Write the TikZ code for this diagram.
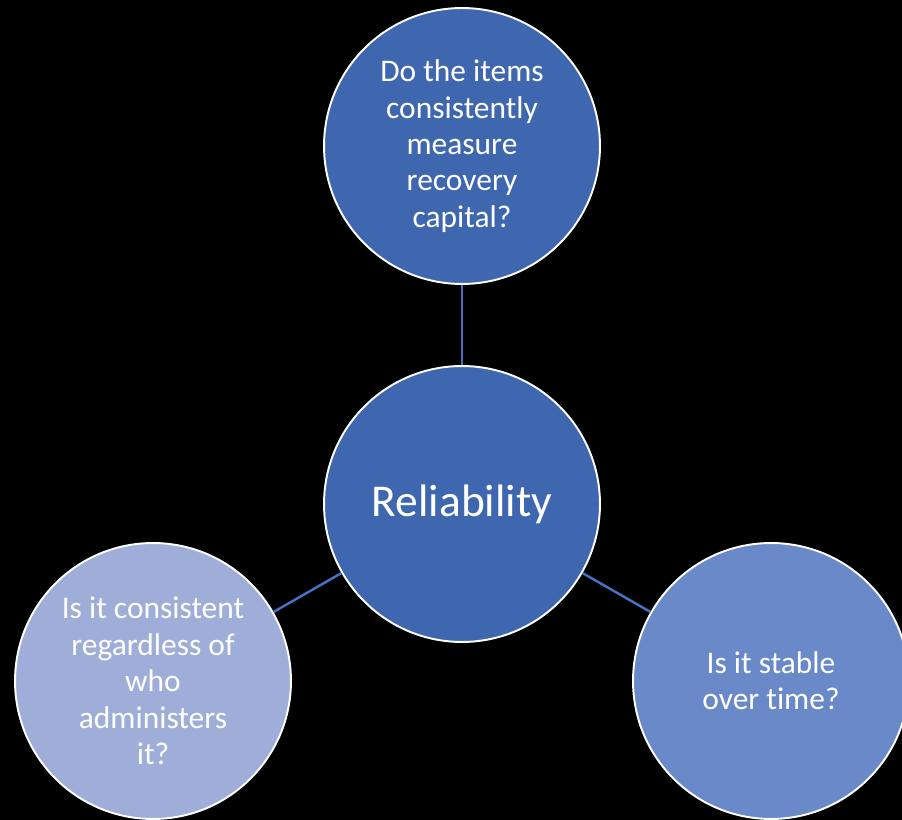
\documentclass[tikz,border=0pt]{standalone}
\usepackage{fontspec}
\setmainfont[Ligatures={NoCommon}]{Carlito}
\usetikzlibrary{positioning}
\definecolor{relline}{HTML}{4472C4}
\definecolor{reldark}{HTML}{3F67B0}
\definecolor{relmid}{HTML}{6A89C8}
\definecolor{rellight}{HTML}{9FAED9}

\begin{document}
\begin{tikzpicture}[x=0.02cm,y=-0.02cm,
  bubble/.style={circle,draw=white,line width=1.1pt,minimum size=5.52cm,
    inner sep=0pt,align=center,text=white,
    font=\fontsize{17.9}{20.7}\selectfont},
  link/.style={relline,line width=1.4pt}]
\fill[black] (0,0) rectangle (902,820);
\path[use as bounding box] (0,0) rectangle (902,820);

% hub and its three questions
\node[bubble,fill=reldark,font=\fontsize{25.9}{31}\selectfont] (hub) at (462,504) {Reliability};
\node[bubble,fill=reldark] (items) at (462,146)
  {Do the items\\consistently\\measure\\recovery\\capital?};
\node[bubble,fill=rellight] (rater) at (153,681)
  {Is it consistent\\regardless of\\who\\administers\\it?};
\node[bubble,fill=relmid] (time) at (771,681) {Is it stable\\over time?};

% spokes
\draw[link] (hub) -- (items);
\draw[link] (hub) -- (rater);
\draw[link] (hub) -- (time);
\end{tikzpicture}
\end{document}
